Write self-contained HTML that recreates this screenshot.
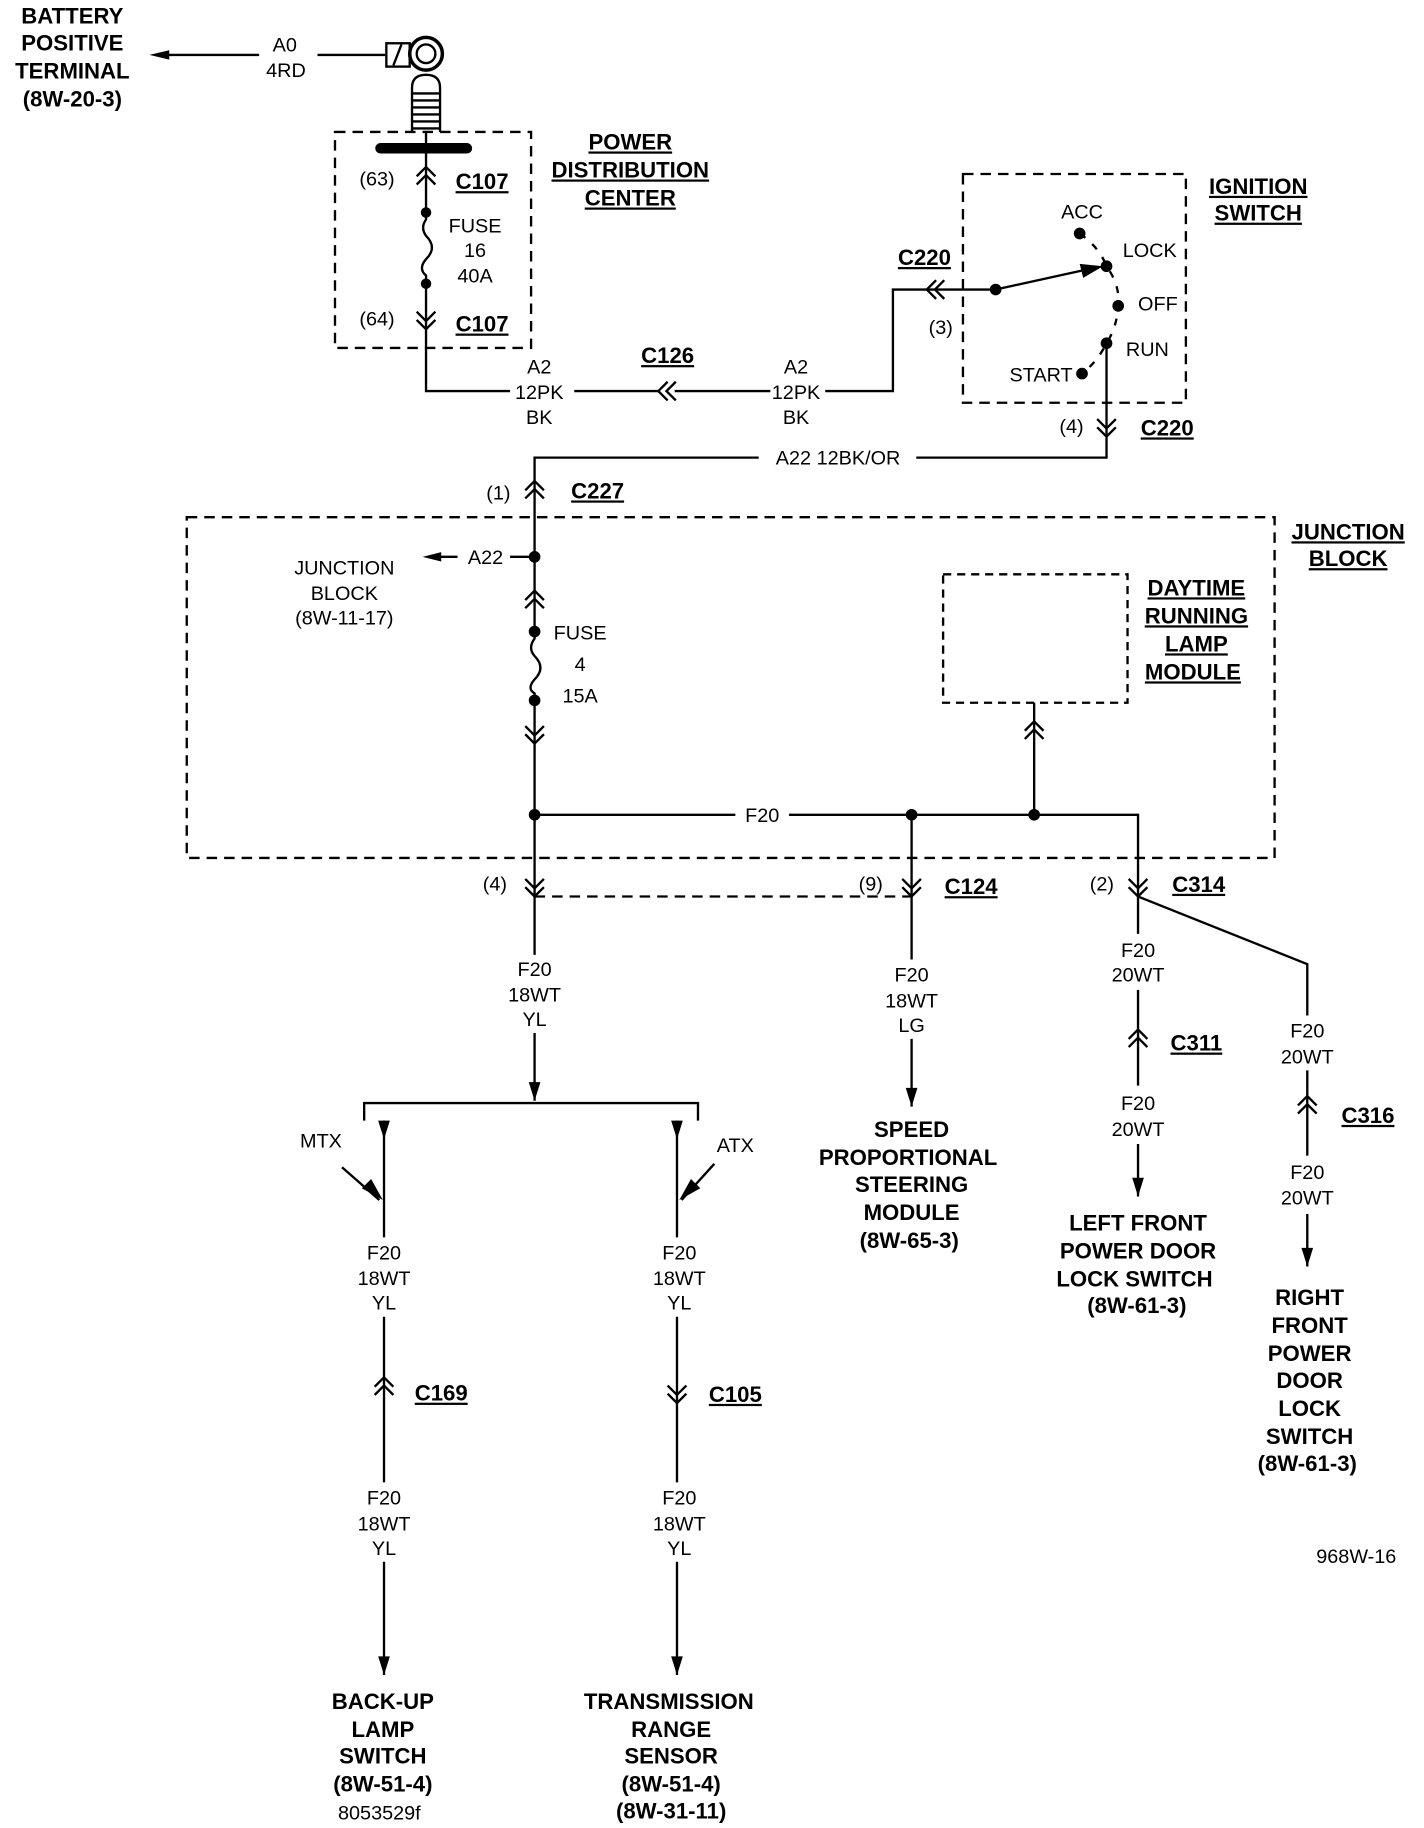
<!DOCTYPE html>
<html><head><meta charset="utf-8"><style>
html,body{margin:0;padding:0;background:#fff}
svg{display:block}
text{font-family:"Liberation Sans",sans-serif;font-size:17px;fill:#000;text-anchor:middle}
.b{font-weight:bold;font-size:19px}
.l{text-anchor:start}
.r{text-anchor:end}
.u{text-decoration:underline}
</style></head><body>
<svg width="1424" height="1828" viewBox="0 0 1220 1566" xmlns="http://www.w3.org/2000/svg">
<defs>
<g id="cu" fill="none" stroke="#000" stroke-width="2"><polyline points="-8,6 0,-2 8,6"/><polyline points="-8,13 0,5 8,13"/></g>
<g id="cd" fill="none" stroke="#000" stroke-width="2"><polyline points="-8,-6 0,2 8,-6"/><polyline points="-8,-13 0,-5 8,-13"/></g>
<g id="cl" fill="none" stroke="#000" stroke-width="2"><polyline points="6,-8 -2,0 6,8"/><polyline points="13,-8 5,0 13,8"/></g>
<polygon id="ad" points="-5,-16 5,-16 0,0" fill="#000"/>
</defs>
<g stroke="#000" stroke-width="2" fill="none">
<line x1="135" y1="47" x2="222" y2="47"/>
<line x1="272" y1="47" x2="330" y2="47"/>
<rect x="331" y="37" width="20" height="20"/>
<line x1="337" y1="56" x2="344" y2="38"/>
<circle cx="365" cy="46" r="14" stroke-width="3"/>
<circle cx="365" cy="46" r="8"/>
<path d="M353,113 V75 Q353,64 365,64 Q377,64 377,75 V113"/>
<line x1="353" y1="80" x2="377" y2="80"/><line x1="353" y1="86" x2="377" y2="86"/><line x1="353" y1="92" x2="377" y2="92"/><line x1="353" y1="98" x2="377" y2="98"/><line x1="353" y1="104" x2="377" y2="104"/><line x1="353" y1="110" x2="377" y2="110"/>
<rect x="287" y="113" width="168" height="185" stroke-dasharray="9,6"/>
<line x1="326" y1="127" x2="400" y2="127" stroke-width="9" stroke-linecap="round"/>
<path d="M365,113 V182 M365,182 V188 Q360,195 365,202 Q375,212 365,222 Q358,230 365,236 V243 M365,243 V335 H437"/>
<line x1="492" y1="335" x2="565" y2="335"/>
<line x1="578" y1="335" x2="660" y2="335"/>
<path d="M707,335 H765 V248 H853"/>
<line x1="853" y1="248" x2="935" y2="230"/>
<rect x="825" y="149" width="191" height="196" stroke-dasharray="9,6"/>
<path d="M925,200 Q942,212 948,228 Q960,245 958,262 Q957,280 948,294 Q940,310 927,320" stroke-dasharray="6,8"/>
<path d="M948,294 V392 H785 M650,392 H458 V477 M458,477 V541 M458,541 V547 Q452,555 458,562 Q468,572 458,582 Q451,590 458,594 V600 M458,600 V818 M458,885 V943"/>
<line x1="392" y1="477" x2="375" y2="477"/>
<line x1="437" y1="477" x2="458" y2="477"/>
<rect x="160" y="443" width="932" height="292" stroke-dasharray="9,6"/>
<rect x="808" y="492" width="158" height="110" stroke-dasharray="7,5"/>
<path d="M458,698 H630 M676,698 H975 V768 M886,698 V602 M781,698 V822 M781,890 V948"/>
<line x1="458" y1="768" x2="780" y2="768" stroke-dasharray="9,6"/>
<path d="M312,960 V945 H598 V960"/>
<path d="M329,960 V1060 M329,1128 V1270 M329,1338 V1435 M580,960 V1060 M580,1128 V1270 M580,1338 V1435"/>
<line x1="293" y1="1000" x2="325" y2="1028"/>
<line x1="612" y1="997" x2="584" y2="1028"/>
<path d="M975,768 V800 M975,848 V930 M975,980 V1025"/>
<path d="M975,768 L1120,826 V870 M1120,917 V990 M1120,1040 V1085"/>
</g>
<polygon points="128,47 145,43 145,51" fill="#000"/>
<polygon points="945,228 925,226 928,238" fill="#000"/>
<polygon points="362,477 378,473 378,481" fill="#000"/>
<g fill="#000">
<circle cx="365" cy="182" r="4.5"/><circle cx="365" cy="243" r="4.5"/>
<circle cx="853" cy="248" r="5"/><circle cx="925" cy="200" r="5"/><circle cx="948" cy="228" r="5"/><circle cx="958" cy="262" r="5"/><circle cx="948" cy="294" r="5"/><circle cx="927" cy="320" r="5"/>
<circle cx="458" cy="477" r="5"/><circle cx="458" cy="541" r="5"/><circle cx="458" cy="600" r="5"/>
<circle cx="458" cy="698" r="5"/><circle cx="781" cy="698" r="5"/><circle cx="886" cy="698" r="5"/>
</g>
<use href="#ad" x="458" y="943"/><use href="#ad" x="329" y="976"/><use href="#ad" x="580" y="976"/>
<polygon points="328,1028 310,1018 318,1010" fill="#000"/>
<polygon points="582,1028 592,1010 600,1018" fill="#000"/>
<use href="#ad" x="329" y="1435"/><use href="#ad" x="580" y="1435"/><use href="#ad" x="781" y="948"/><use href="#ad" x="975" y="1025"/><use href="#ad" x="1120" y="1085"/>
<use href="#cu" x="365" y="145"/><use href="#cd" x="365" y="280"/>
<use href="#cl" x="566" y="335"/><use href="#cl" x="796" y="248"/>
<use href="#cd" x="948" y="372"/><use href="#cu" x="458" y="414"/>
<use href="#cu" x="458" y="508"/><use href="#cd" x="458" y="635"/><use href="#cu" x="886" y="620"/>
<use href="#cd" x="458" y="766"/><use href="#cd" x="781" y="766"/><use href="#cd" x="975" y="766"/>
<use href="#cu" x="975" y="884"/><use href="#cu" x="1120" y="941"/>
<use href="#cu" x="329" y="1182"/><use href="#cd" x="580" y="1200"/>
<text class="b" x="62" y="20">BATTERY</text><text class="b" x="62" y="43">POSITIVE</text><text class="b" x="62" y="67">TERMINAL</text><text class="b" x="62" y="91">(8W-20-3)</text>
<text x="244" y="44">A0</text><text x="245" y="66">4RD</text>
<text class="b u" x="540" y="128">POWER</text><text class="b u" x="540" y="152">DISTRIBUTION</text><text class="b u" x="540" y="176">CENTER</text>
<text x="323" y="159">(63)</text><text class="b u" x="413" y="162">C107</text>
<text x="407" y="199">FUSE</text><text x="407" y="220">16</text><text x="407" y="242">40A</text>
<text x="323" y="279">(64)</text><text class="b u" x="413" y="284">C107</text>
<text x="462" y="320">A2</text><text x="462" y="342">12PK</text><text x="462" y="363">BK</text>
<text class="b u" x="572" y="311">C126</text>
<text x="682" y="320">A2</text><text x="682" y="342">12PK</text><text x="682" y="363">BK</text>
<text class="b u" x="792" y="227">C220</text><text x="806" y="286">(3)</text>
<text class="b u" x="1078" y="166">IGNITION</text><text class="b u" x="1078" y="189">SWITCH</text>
<text x="927" y="187">ACC</text><text x="985" y="220">LOCK</text><text x="992" y="266">OFF</text><text x="983" y="305">RUN</text><text class="r" x="919" y="327">START</text>
<text x="918" y="371">(4)</text><text class="b u" x="1000" y="373">C220</text>
<text x="718" y="398">A22 12BK/OR</text>
<text x="427" y="428">(1)</text><text class="b u" x="512" y="427">C227</text>
<text class="b u" x="1155" y="462">JUNCTION</text><text class="b u" x="1155" y="485">BLOCK</text>
<text x="416" y="483">A22</text>
<text x="295" y="492">JUNCTION</text><text x="295" y="514">BLOCK</text><text x="295" y="535">(8W-11-17)</text>
<text x="497" y="548">FUSE</text><text x="497" y="575">4</text><text x="497" y="602">15A</text>
<text class="b u" x="1025" y="510">DAYTIME</text><text class="b u" x="1025" y="534">RUNNING</text><text class="b u" x="1025" y="558">LAMP</text><text class="b u" x="1022" y="582">MODULE</text>
<text x="653" y="704">F20</text>
<text x="424" y="763">(4)</text><text x="746" y="763">(9)</text><text class="b u" x="832" y="766">C124</text><text x="944" y="763">(2)</text><text class="b u" x="1027" y="764">C314</text>
<text x="458" y="836">F20</text><text x="458" y="858">18WT</text><text x="458" y="879">YL</text>
<text x="781" y="841">F20</text><text x="781" y="863">18WT</text><text x="781" y="884">LG</text>
<text x="975" y="820">F20</text><text x="975" y="841">20WT</text>
<text class="b u" x="1025" y="900">C311</text>
<text x="975" y="951">F20</text><text x="975" y="973">20WT</text>
<text x="1120" y="889">F20</text><text x="1120" y="911">20WT</text>
<text class="b u" x="1172" y="962">C316</text>
<text x="1120" y="1010">F20</text><text x="1120" y="1032">20WT</text>
<text x="275" y="983">MTX</text><text x="630" y="987">ATX</text>
<text x="329" y="1079">F20</text><text x="329" y="1101">18WT</text><text x="329" y="1122">YL</text>
<text x="582" y="1079">F20</text><text x="582" y="1101">18WT</text><text x="582" y="1122">YL</text>
<text class="b u" x="378" y="1200">C169</text><text class="b u" x="630" y="1201">C105</text>
<text x="329" y="1289">F20</text><text x="329" y="1311">18WT</text><text x="329" y="1332">YL</text>
<text x="582" y="1289">F20</text><text x="582" y="1311">18WT</text><text x="582" y="1332">YL</text>
<text class="b" x="781" y="974">SPEED</text><text class="b" x="778" y="998">PROPORTIONAL</text><text class="b" x="781" y="1021">STEERING</text><text class="b" x="781" y="1045">MODULE</text><text class="b" x="779" y="1069">(8W-65-3)</text>
<text class="b" x="975" y="1054">LEFT FRONT</text><text class="b" x="975" y="1078">POWER DOOR</text><text class="b" x="972" y="1102">LOCK SWITCH</text><text class="b" x="974" y="1125">(8W-61-3)</text>
<text class="b" x="1122" y="1118">RIGHT</text><text class="b" x="1122" y="1142">FRONT</text><text class="b" x="1122" y="1166">POWER</text><text class="b" x="1122" y="1189">DOOR</text><text class="b" x="1122" y="1213">LOCK</text><text class="b" x="1122" y="1237">SWITCH</text><text class="b" x="1120" y="1260">(8W-61-3)</text>
<text x="1162" y="1339">968W-16</text>
<text class="b" x="328" y="1464">BACK-UP</text><text class="b" x="328" y="1488">LAMP</text><text class="b" x="328" y="1511">SWITCH</text><text class="b" x="328" y="1535">(8W-51-4)</text>
<text x="325" y="1559">8053529f</text>
<text class="b" x="573" y="1464">TRANSMISSION</text><text class="b" x="575" y="1488">RANGE</text><text class="b" x="575" y="1511">SENSOR</text><text class="b" x="575" y="1535">(8W-51-4)</text><text class="b" x="575" y="1558">(8W-31-11)</text>
</svg>
</body></html>
